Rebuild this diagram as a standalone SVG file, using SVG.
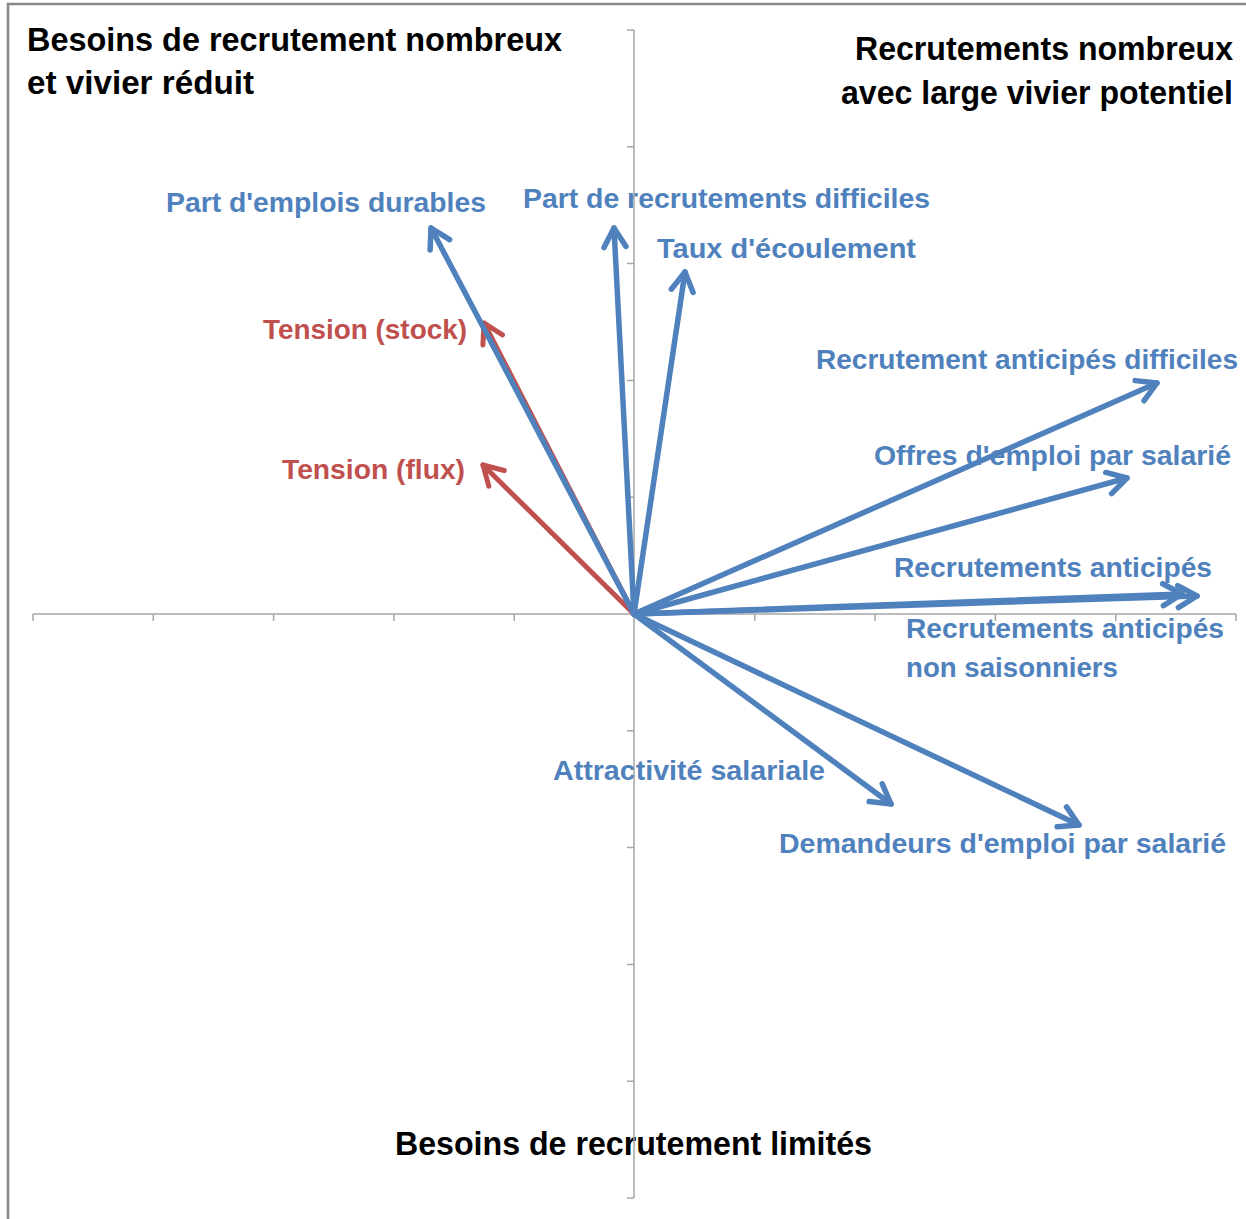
<svg xmlns="http://www.w3.org/2000/svg" width="1246" height="1219" viewBox="0 0 1246 1219">
<style>
.h{font-family:"Liberation Sans",Arial,sans-serif;font-weight:bold;font-size:33px;fill:#000}
.b{font-family:"Liberation Sans",Arial,sans-serif;font-weight:bold;font-size:28px;fill:#4F81BD}
.r{font-family:"Liberation Sans",Arial,sans-serif;font-weight:bold;font-size:28px;fill:#C0504D}
.ax{stroke:#A6A6A6;stroke-width:1.5;fill:none}
.ab{stroke:#4F81BD;stroke-width:5.5;fill:none;stroke-linecap:round;marker-end:url(#mb)}
.ar{stroke:#C0504D;stroke-width:5;fill:none;stroke-linecap:round;marker-end:url(#mr)}
</style>
<defs>
<marker id="mb" markerUnits="userSpaceOnUse" viewBox="-25 -15 30 30" refX="0" refY="0" markerWidth="30" markerHeight="30" orient="auto" overflow="visible"><path d="M-19,-11 L0,0 L-19,11" fill="none" stroke="#4F81BD" stroke-width="5.5" stroke-linecap="round" stroke-linejoin="round"/></marker>
<marker id="mr" markerUnits="userSpaceOnUse" viewBox="-25 -15 30 30" refX="0" refY="0" markerWidth="30" markerHeight="30" orient="auto" overflow="visible"><path d="M-19,-11 L0,0 L-19,11" fill="none" stroke="#C0504D" stroke-width="5" stroke-linecap="round" stroke-linejoin="round"/></marker>
</defs>
<rect width="1246" height="1219" fill="#fff"/>
<path d="M8,1219 V4 H1246" stroke="#888" stroke-width="2.5" fill="none"/>
<g id="quadrant-labels">
<text class="h" x="27" y="51" textLength="535" lengthAdjust="spacingAndGlyphs">Besoins de recrutement nombreux</text>
<text class="h" x="27" y="94" textLength="227" lengthAdjust="spacingAndGlyphs">et vivier réduit</text>
<text class="h" x="855" y="60" textLength="378" lengthAdjust="spacingAndGlyphs">Recrutements nombreux</text>
<text class="h" x="841" y="104" textLength="392" lengthAdjust="spacingAndGlyphs">avec large vivier potentiel</text>
<text class="h" x="395" y="1155" textLength="477" lengthAdjust="spacingAndGlyphs">Besoins de recrutement limités</text>
</g>
<g id="n-durables"><text class="b" x="166" y="212" textLength="320" lengthAdjust="spacingAndGlyphs">Part d'emplois durables</text></g>
<g id="n-difficiles"><text class="b" x="523" y="208" textLength="407" lengthAdjust="spacingAndGlyphs">Part de recrutements difficiles</text></g>
<g id="n-taux"><text class="b" x="657" y="258" textLength="259" lengthAdjust="spacingAndGlyphs">Taux d'écoulement</text></g>
<g id="n-stock"><text class="r" x="263" y="339" textLength="204" lengthAdjust="spacingAndGlyphs">Tension (stock)</text></g>
<g id="n-flux"><text class="r" x="282" y="479" textLength="183" lengthAdjust="spacingAndGlyphs">Tension (flux)</text></g>
<g id="n-antdiff"><text class="b" x="816" y="369" textLength="422" lengthAdjust="spacingAndGlyphs">Recrutement anticipés difficiles</text></g>
<g id="n-offres"><text class="b" x="874" y="465" textLength="357" lengthAdjust="spacingAndGlyphs">Offres d'emploi par salarié</text></g>
<g id="n-anticipes"><text class="b" x="894" y="577" textLength="318" lengthAdjust="spacingAndGlyphs">Recrutements anticipés</text></g>
<g id="n-nonsais"><text class="b" x="906" y="638" textLength="318" lengthAdjust="spacingAndGlyphs">Recrutements anticipés</text><text class="b" x="906" y="677" textLength="212" lengthAdjust="spacingAndGlyphs">non saisonniers</text></g>
<g id="n-attract"><text class="b" x="553" y="780" textLength="272" lengthAdjust="spacingAndGlyphs">Attractivité salariale</text></g>
<g id="n-demandeurs"><text class="b" x="779" y="853" textLength="447" lengthAdjust="spacingAndGlyphs">Demandeurs d'emploi par salarié</text></g>
<g id="axes">
<path class="ax" d="M33,614 H1236 M33,614 v7 M153.3,614 v7 M273.6,614 v7 M393.9,614 v7 M514.2,614 v7 M754.8,614 v7 M875.1,614 v7 M995.4,614 v7 M1115.7,614 v7 M1236,614 v7"/>
<path class="ax" d="M634,30 V1198 M627,30 h7 M627,146.8 h7 M627,263.6 h7 M627,380.4 h7 M627,497.2 h7 M627,730.8 h7 M627,847.6 h7 M627,964.4 h7 M627,1081.2 h7 M627,1198 h7"/>
</g>
<g id="connectors">
<line class="ar" x1="634" y1="614" x2="484" y2="323"/>
<line class="ar" x1="634" y1="614" x2="483" y2="465"/>
<line class="ab" x1="634" y1="614" x2="431" y2="228"/>
<line class="ab" x1="634" y1="614" x2="614" y2="228"/>
<line class="ab" x1="634" y1="614" x2="685" y2="272"/>
<line class="ab" x1="634" y1="614" x2="1157" y2="383"/>
<line class="ab" x1="634" y1="614" x2="1127" y2="478"/>
<line class="ab" x1="634" y1="614" x2="1197" y2="596"/>
<line class="ab" x1="634" y1="614" x2="1182" y2="594"/>
<line class="ab" x1="634" y1="614" x2="891" y2="804"/>
<line class="ab" x1="634" y1="614" x2="1079" y2="825"/>
</g>
</svg>
